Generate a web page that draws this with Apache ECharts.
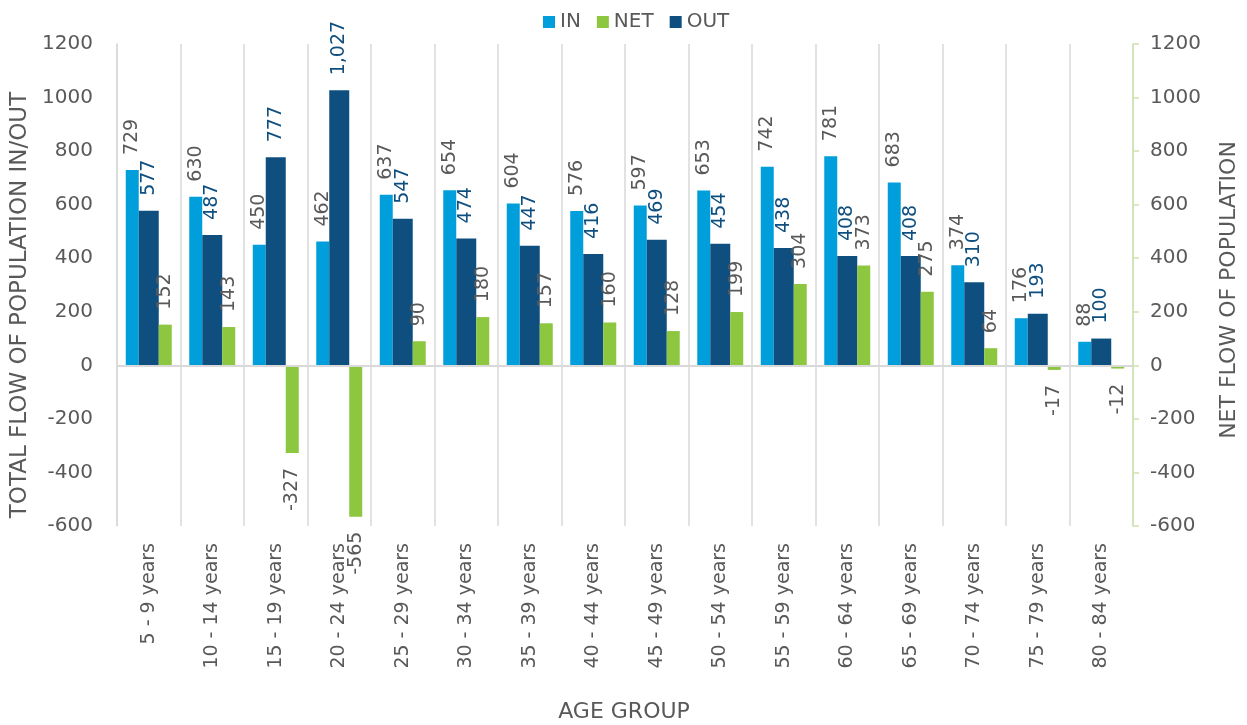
<!DOCTYPE html>
<html>
<head>
<meta charset="utf-8">
<script src="https://cdn.jsdelivr.net/npm/echarts@6/dist/echarts.min.js"></script>
<style>
html,body{margin:0;padding:0;background:#fff;}
#chart{width:1247px;height:725px;}
</style>
</head>
<body>
<div id="chart"></div>
<script>
const categories = ['5 - 9 years','10 - 14 years','15 - 19 years','20 - 24 years','25 - 29 years','30 - 34 years','35 - 39 years','40 - 44 years','45 - 49 years','50 - 54 years','55 - 59 years','60 - 64 years','65 - 69 years','70 - 74 years','75 - 79 years','80 - 84 years'];
const inValues  = [729, 630, 450, 462, 637, 654, 604, 576, 597, 653, 742, 781, 683, 374, 176, 88];
const outValues = [577, 487, 777, 1027, 547, 474, 447, 416, 469, 454, 438, 408, 408, 310, 193, 100];
const netValues = [152, 143, -327, -565, 90, 180, 157, 160, 128, 199, 304, 373, 275, 64, -17, -12];
const axisMin = -600, axisMax = 1200, axisStep = 200;

const FONT = 'DejaVu Sans';
const GRAY = '#595959';
const C_IN = '#009FDB', C_OUT = '#0E4F80', C_NET = '#8DC63F';
const fmt = v => Number(v).toLocaleString('en-US');

function makeData(values) {
  return values.map(v => v < 0
    ? { value: v, label: { position: 'bottom', align: 'right' } }
    : v);
}
function labelCfg(color) {
  return {
    show: true, position: 'top', rotate: 90, align: 'left', verticalAlign: 'middle',
    distance: 15, color: color, fontFamily: FONT, fontSize: 19,
    formatter: p => fmt(p.value)
  };
}

const chart = echarts.init(document.getElementById('chart'), null, { renderer: 'canvas' });
chart.setOption({
  animation: false,
  backgroundColor: '#fff',
  textStyle: { fontFamily: FONT },
  legend: {
    data: ['IN', 'NET', 'OUT'], top: 7, left: 538,
    icon: 'rect', itemWidth: 12, itemHeight: 12, itemGap: 16,
    textStyle: { fontFamily: FONT, fontSize: 20, color: GRAY }
  },
  grid: { left: 117, right: 114, top: 44, bottom: 199, containLabel: false },
  xAxis: {
    type: 'category', data: categories, position: 'bottom',
    axisLine: { show: false, onZero: false },
    axisTick: { show: false },
    splitLine: { show: true, lineStyle: { color: '#D9D9D9', width: 1.5 } },
    axisLabel: { rotate: 90, margin: 17, fontFamily: FONT, fontSize: 19, color: GRAY, interval: 0 }
  },
  yAxis: [{
    type: 'value', min: axisMin, max: axisMax, interval: axisStep, position: 'left',
    axisLine: { show: true, lineStyle: { color: '#D9D9D9', width: 1.5 } },
    axisTick: { show: false }, splitLine: { show: false },
    axisLabel: { margin: 24, fontFamily: FONT, fontSize: 20, color: GRAY, formatter: v => String(v) }
  }, {
    type: 'value', min: axisMin, max: axisMax, interval: axisStep, position: 'right',
    axisLine: { show: true, lineStyle: { color: '#CDE4AE', width: 1.5 } },
    axisTick: { show: true, inside: false, length: 6, lineStyle: { color: '#CDE4AE', width: 1.5 } },
    splitLine: { show: false },
    axisLabel: { margin: 17, fontFamily: FONT, fontSize: 20, color: GRAY, formatter: v => String(v) }
  }],
  graphic: [
    { type: 'text', x: 20, y: 305, rotation: Math.PI / 2,
      style: { text: 'TOTAL FLOW OF POPULATION IN/OUT', fontFamily: FONT, fontSize: 23, fill: GRAY,
               align: 'center', verticalAlign: 'middle', textAlign: 'center', textVerticalAlign: 'middle' } },
    { type: 'text', x: 1229, y: 290, rotation: Math.PI / 2,
      style: { text: 'NET FLOW OF POPULATION', fontFamily: FONT, fontSize: 22, fill: GRAY,
               align: 'center', verticalAlign: 'middle', textAlign: 'center', textVerticalAlign: 'middle' } },
    { type: 'text', x: 624, y: 712,
      style: { text: 'AGE GROUP', fontFamily: FONT, fontSize: 22, fill: GRAY,
               align: 'center', verticalAlign: 'middle', textAlign: 'center', textVerticalAlign: 'middle' } }
  ],
  series: [{
    name: 'IN', type: 'bar', yAxisIndex: 0, data: makeData(inValues),
    barWidth: 13, barGap: 0,
    itemStyle: { color: C_IN }, label: labelCfg(GRAY),
    markLine: {
      silent: true, symbol: 'none', label: { show: false },
      lineStyle: { color: '#D9D9D9', width: 2, type: 'solid' },
      data: [{ yAxis: 0 }]
    }
  }, {
    name: 'OUT', type: 'bar', yAxisIndex: 0, data: makeData(outValues),
    barWidth: 20, barGap: 0,
    itemStyle: { color: C_OUT }, label: labelCfg(C_OUT)
  }, {
    name: 'NET', type: 'bar', yAxisIndex: 1, data: makeData(netValues),
    barWidth: 13, barGap: 0,
    itemStyle: { color: C_NET }, label: labelCfg(GRAY)
  }]
});
</script>
</body>
</html>
